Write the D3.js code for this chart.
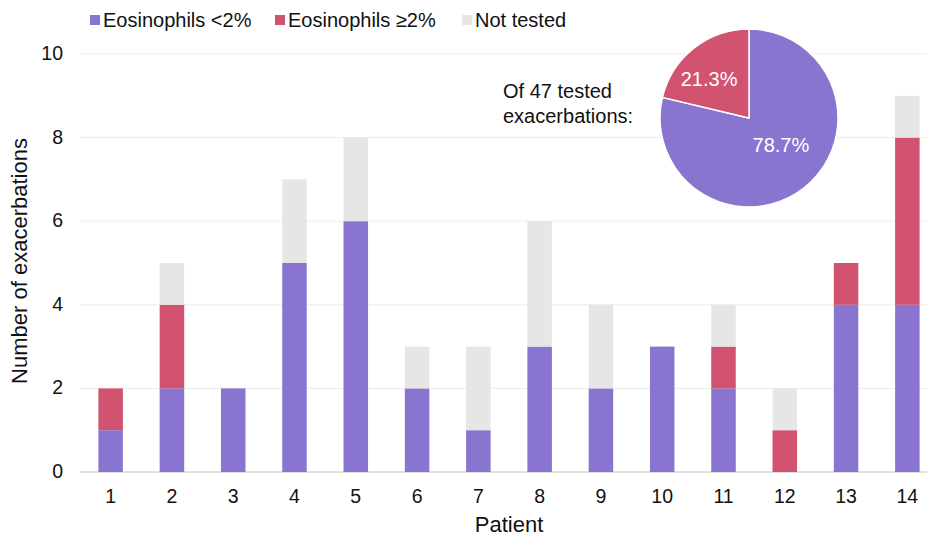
<!DOCTYPE html>
<html>
<head>
<meta charset="utf-8">
<script src="https://cdn.jsdelivr.net/npm/d3@7"></script>
<style>
  body { margin: 0; background: #fff; }
  text { font-family: "Liberation Sans", Arial, sans-serif; }
</style>
</head>
<body>
<div id="chart"></div>
<script>
var w = 927, h = 537;
var patients = ["1","2","3","4","5","6","7","8","9","10","11","12","13","14"];
var eosLow = [1, 2, 2, 5, 6, 2, 1, 3, 2, 3, 2, 0, 4, 4];
var eosHigh = [1, 2, 0, 0, 0, 0, 0, 0, 0, 0, 1, 1, 1, 4];
var notTested = [0, 1, 0, 2, 2, 1, 2, 3, 2, 0, 1, 1, 0, 1];
var seriesNames = ["Eosinophils <2%", "Eosinophils \u22652%", "Not tested"];
var yTicks = [0, 2, 4, 6, 8, 10];
var colors = ["#8975d0", "#d1536f", "#e6e6e6"];

var svg = d3.select("#chart").append("svg")
    .attr("width", w).attr("height", h);

var x = d3.scaleBand().domain(patients).range([80, 938]).paddingInner(0.6).paddingOuter(0.3);
var y = d3.scaleLinear().domain([0, 10]).range([472, 54]);

// gridlines
svg.append("g").selectAll("line")
    .data(yTicks)
    .enter().append("line")
    .attr("x1", 80).attr("x2", w)
    .attr("y1", d => y(d)).attr("y2", d => y(d))
    .attr("stroke", d => d === 0 ? "#d6d6d6" : "#ececec")
    .attr("stroke-width", d => d === 0 ? 1.5 : 1);

// y tick labels
svg.append("g").selectAll("text")
    .data(yTicks)
    .enter().append("text")
    .attr("x", 63).attr("y", d => y(d) + 6)
    .attr("text-anchor", "end")
    .attr("font-size", "19.5px")
    .attr("fill", "#111")
    .text(d => d);

// stacked bars
var rows = patients.map((p, i) => ({ patient: p, a: eosLow[i], b: eosHigh[i], c: notTested[i] }));
var stack = d3.stack().keys(["a", "b", "c"]);
var layers = stack(rows);

svg.append("g").selectAll("g")
    .data(layers)
    .enter().append("g")
    .attr("fill", (d, i) => colors[i])
    .selectAll("rect")
    .data(d => d)
    .enter().append("rect")
    .attr("x", d => x(d.data.patient))
    .attr("width", x.bandwidth())
    .attr("y", d => y(d[1]))
    .attr("height", d => y(d[0]) - y(d[1]));

// x tick labels
svg.append("g").selectAll("text")
    .data(patients)
    .enter().append("text")
    .attr("x", d => x(d) + x.bandwidth() / 2)
    .attr("y", 503)
    .attr("text-anchor", "middle")
    .attr("font-size", "19.5px")
    .attr("fill", "#111")
    .text(d => d);

// axis titles
svg.append("text")
    .attr("x", 509).attr("y", 532)
    .attr("text-anchor", "middle")
    .attr("font-size", "22px")
    .attr("fill", "#111")
    .text("Patient");

svg.append("text")
    .attr("transform", "translate(27,261) rotate(-90)")
    .attr("text-anchor", "middle")
    .attr("font-size", "22px")
    .attr("fill", "#111")
    .text("Number of exacerbations");

// legend
var legendX = [90, 275, 462];
var legend = svg.append("g").selectAll("g")
    .data(seriesNames)
    .enter().append("g")
    .attr("transform", (d, i) => `translate(${legendX[i]},0)`);
legend.append("rect")
    .attr("x", 0).attr("y", 15).attr("width", 10).attr("height", 10)
    .attr("fill", (d, i) => colors[i]);
legend.append("text")
    .attr("x", 13).attr("y", 26.5)
    .attr("font-size", "20px")
    .attr("fill", "#111")
    .text(d => d);

// pie of tested exacerbations
var pieData = [d3.sum(eosLow), d3.sum(eosHigh)];
var total = d3.sum(pieData);
var pie = d3.pie().sort(null);
var arc = d3.arc().innerRadius(0).outerRadius(89);
var labelArc = d3.arc().innerRadius(45).outerRadius(45);
var labelShift = [[4, -8], [-12, -4]];
var pg = svg.append("g").attr("transform", "translate(749,118)");
var slices = pg.selectAll("g")
    .data(pie(pieData))
    .enter().append("g");
slices.append("path")
    .attr("d", arc)
    .attr("fill", (d, i) => colors[i])
    .attr("stroke", "#fff")
    .attr("stroke-width", 1.5);
slices.append("text")
    .attr("transform", (d, i) => {
        var c = labelArc.centroid(d);
        return `translate(${c[0] + labelShift[i][0]},${c[1] + labelShift[i][1]})`;
    })
    .attr("text-anchor", "middle")
    .attr("dy", "0.35em")
    .attr("font-size", "20px")
    .attr("fill", "#fff")
    .text(d => (d.value / total * 100).toFixed(1) + "%");

svg.append("text")
    .attr("x", 503).attr("y", 98)
    .attr("font-size", "20px")
    .attr("fill", "#111")
    .text("Of " + total + " tested");
svg.append("text")
    .attr("x", 503).attr("y", 123)
    .attr("font-size", "20px")
    .attr("fill", "#111")
    .text("exacerbations:");
</script>
</body>
</html>
